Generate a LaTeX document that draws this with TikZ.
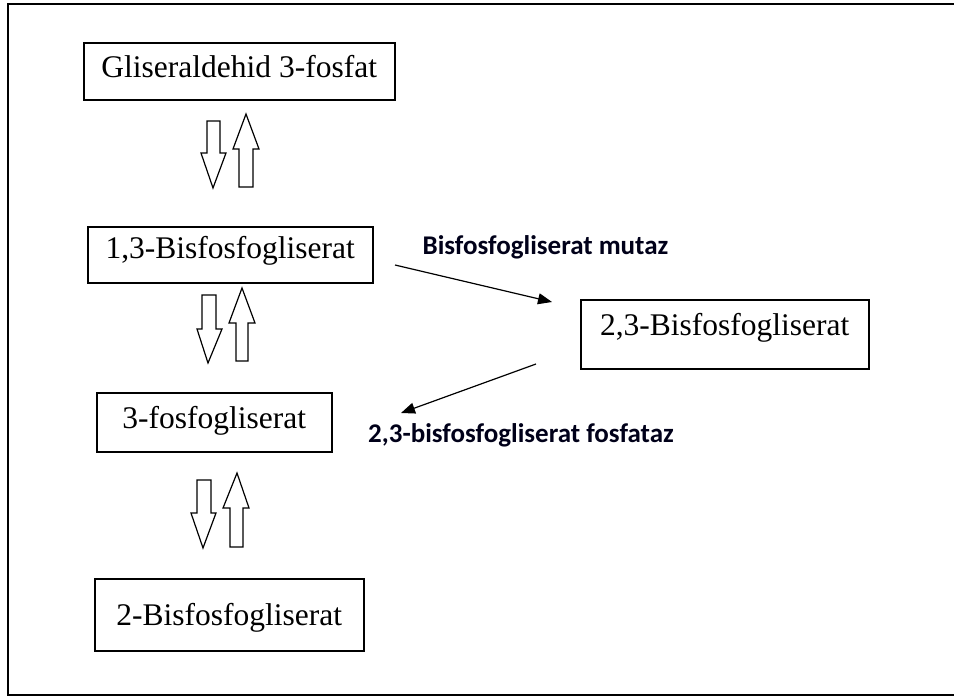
\documentclass[tikz,border=0pt]{standalone}
\usepackage{fontspec}
\setmainfont{Liberation Serif}
\newfontfamily\lblfont{Carlito}
\usetikzlibrary{arrows.meta}
\begin{document}
\begin{tikzpicture}[x=1pt,y=-1pt,
  box/.style={draw, line width=1.5pt, inner sep=0pt, anchor=north west, font=\fontsize{31.5}{31.5}\selectfont},
  hollow/.style={draw, line width=1.2pt, line join=miter, fill=white},
  enz/.style={font=\lblfont\bfseries\fontsize{27}{27}\selectfont, anchor=base, text=black!90!blue},
  conn/.style={line width=1.2pt, -{Triangle[length=14pt,width=11pt]}}]
\useasboundingbox (0,0) rectangle (954,699);
\draw[line width=1.5pt] (955,4) -- (8,4) -- (8,695) -- (955,695);

\node[box, minimum width=311pt, text height=35pt, text depth=22pt] (g3p) at (83,42) {Gliseraldehid 3-fosfat};
\node[box, minimum width=285pt, text height=32pt, text depth=24pt] (bpg13) at (87,226) {1,3-Bisfosfogliserat};
\node[box, minimum width=288pt, text height=36pt, text depth=33pt] (bpg23) at (580,299) {2,3-Bisfosfogliserat};
\node[box, minimum width=235pt, text height=36pt, text depth=23pt] (pg3) at (96,392) {3-fosfogliserat};
\node[box, minimum width=269pt, text height=47pt, text depth=25pt] (bpg2) at (94,578) {2-Bisfosfogliserat};

% hollow arrows pair 1
\draw[hollow] (207,121) -- (220,121) -- (220,153) -- (226,153) -- (213,188) -- (201,153) -- (207,153) -- cycle;
\draw[hollow] (239,187) -- (253,187) -- (253,149) -- (259,149) -- (246,114) -- (233,149) -- (239,149) -- cycle;
% pair 2
\draw[hollow] (202,295) -- (216,295) -- (216,329) -- (222,329) -- (208,363) -- (197,329) -- (202,329) -- cycle;
\draw[hollow] (236,361) -- (248,361) -- (248,323) -- (255,323) -- (242,288) -- (229,323) -- (236,323) -- cycle;
% pair 3
\draw[hollow] (197,480) -- (211,480) -- (211,513) -- (216,513) -- (203,548) -- (191,513) -- (197,513) -- cycle;
\draw[hollow] (230,547) -- (243,547) -- (243,508) -- (249,508) -- (237,473) -- (223,508) -- (230,508) -- cycle;

\coordinate (m1) at (395,265);
\coordinate (m2) at (552,302);
\coordinate (f1) at (536,364);
\coordinate (f2) at (401,413);
\draw[conn] (m1) -- (m2);
\draw[conn] (f1) -- (f2);

\node[enz] (mutaz) at (545.5,254) {Bisfosfogliserat mutaz};
\node[enz] (fosfataz) at (521,442) {2,3-bisfosfogliserat fosfataz};
\end{tikzpicture}
\end{document}
